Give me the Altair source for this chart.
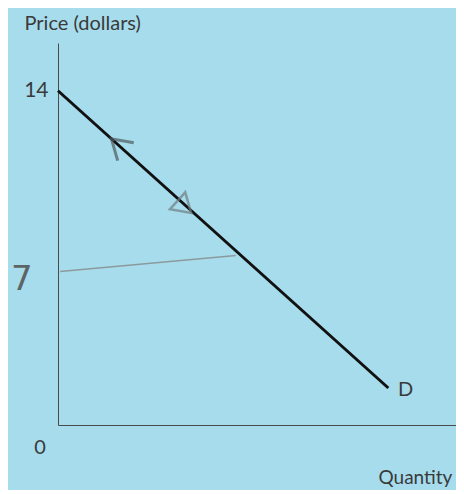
import altair as alt
import pandas as pd

# Demand curve D (quantity, price)
demand_q = [0.0, 12.45]
demand_p = [14.0, 1.55]

# Hand-drawn pencil line near price 7
pencil_q = [0.08, 6.7]
pencil_p = [6.43, 7.1]

# Hand-drawn arrowheads on the curve
arrow_q = [2.35, 4.7]
arrow_p = [11.65, 9.2]
arrow_dir = ["up", "down"]

# Text annotations
label_text = ["D", "0"]
label_q = [13.1, -0.68]
label_p = [1.47, -0.96]

hand_text = ["7"]
hand_q = [-1.36]
hand_p = [6.07]

FONT = "Lato"
INK = "#3a3a3a"

xs = alt.Scale(domain=[0, 15], nice=False, zero=False)
ys = alt.Scale(domain=[0, 16], nice=False, zero=False)

demand = pd.DataFrame({"q": demand_q, "p": demand_p})
pencil = pd.DataFrame({"q": pencil_q, "p": pencil_p})
arrows = pd.DataFrame({"q": arrow_q, "p": arrow_p, "d": arrow_dir})
labels = pd.DataFrame({"q": label_q, "p": label_p, "t": label_text})
hand = pd.DataFrame({"q": hand_q, "p": hand_p, "t": hand_text})

base_x = alt.X("q:Q", scale=xs, axis=alt.Axis(
    values=[], ticks=False, grid=False, labels=False,
    domainColor="#4a4a4a", domainWidth=1,
    title="Quantity", titleFont=FONT, titleFontSize=19, titleFontWeight="normal",
    titleColor=INK, titleAlign="left", titleBaseline="alphabetic",
    titleX=320, titleY=58))
base_y = alt.Y("p:Q", scale=ys, axis=alt.Axis(
    values=[14], ticks=False, grid=False,
    labelFont=FONT, labelFontSize=21, labelColor=INK, labelPadding=10,
    domainColor="#4a4a4a", domainWidth=1,
    title="Price (dollars)", titleFont=FONT, titleFontSize=20, titleFontWeight="normal",
    titleColor=INK, titleAngle=0, titleAlign="left", titleBaseline="alphabetic",
    titleX=-34, titleY=-14))

demand_line = alt.Chart(demand).mark_line(color="#111111", strokeWidth=3).encode(
    x=base_x, y=base_y)

pencil_line = alt.Chart(pencil).mark_line(color="#8c9a9e", strokeWidth=1.5).encode(
    x="q:Q", y="p:Q")

arrow_up = alt.Chart(arrows[arrows.d == "up"]).mark_point(
    shape="M-1,0.6L0,-1L1,0.6", filled=False, size=576, angle=312,
    stroke="#4f5a5e", strokeWidth=3).encode(x="q:Q", y="p:Q")

arrow_down = alt.Chart(arrows[arrows.d == "down"]).mark_point(
    shape="M-1,0.6L0,-1L1,0.6Z", filled=False, size=520, angle=132,
    stroke="#6f7f84", strokeWidth=2.5).encode(x="q:Q", y="p:Q")

text_labels = alt.Chart(labels).mark_text(
    font=FONT, fontSize=20, color=INK).encode(x="q:Q", y="p:Q", text="t:N")

hand_label = alt.Chart(hand).mark_text(
    font="DejaVu Sans", fontSize=34, color="#5c6466", fontWeight="normal").encode(
    x="q:Q", y="p:Q", text="t:N")

chart = alt.layer(
    pencil_line, demand_line, arrow_up, arrow_down, text_labels, hand_label
).properties(
    width=398, height=382,
    autosize=alt.AutoSizeParams(type="none"),
    padding={"left": 50, "top": 35, "right": 0, "bottom": 65},
    background="#a6dcec",
).configure_view(stroke=None)

chart.save("out.html", embed_options={"renderer": "svg", "actions": False})
